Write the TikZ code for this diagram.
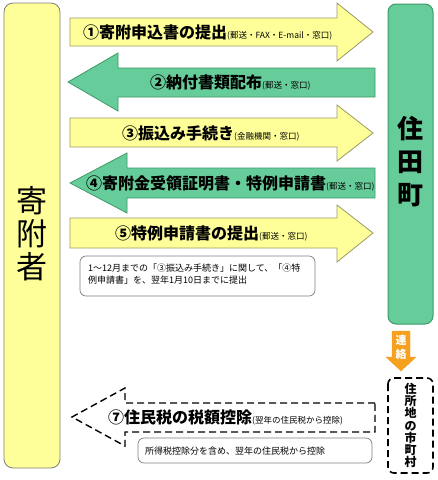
\documentclass[tikz,border=0pt]{standalone}
\usepackage{fontspec}
\setmainfont{Noto Sans CJK JP}
\definecolor{yelfill}{HTML}{FFFF99}
\definecolor{yeldraw}{HTML}{9A9A6A}
\definecolor{grnfill}{HTML}{66CC99}
\definecolor{grndraw}{HTML}{3F9A6A}
\definecolor{orng}{HTML}{F5A01E}
\definecolor{boxgray}{HTML}{7F7F7F}
\tikzset{
  yel/.style={fill=yelfill, draw=yeldraw, line width=0.8pt},
  grn/.style={fill=grnfill, draw=grndraw, line width=0.8pt},
  lbl/.style={anchor=west, inner sep=0pt, font=\bfseries\fontsize{16}{18}\selectfont},
  note/.style={draw=boxgray, fill=white, rounded corners=6pt, line width=0.7pt},
  notetext/.style={anchor=north west, inner sep=0pt, align=left, font=\fontsize{9}{11.5}\selectfont},
  dsh/.style={draw=black, line width=1.6pt, dash pattern=on 7pt off 4pt},
}
\newcommand{\sm}[1]{{\mdseries\fontsize{8.5}{10}\selectfont #1}}
\begin{document}
\begin{tikzpicture}[x=1pt,y=-1pt]
\useasboundingbox (0,0) rectangle (438,480);
% side boxes
\draw[yel, draw=boxgray, rounded corners=9pt] (4,3) rectangle (60,468);
\node[inner sep=0pt, align=center, font=\fontsize{31}{33}\selectfont] (donor) at (32,234) {寄\\附\\者};
\draw[grn, rounded corners=8pt, line width=1pt] (388,4) rectangle (433,324);
\node[inner sep=0pt, align=center, font=\bfseries\fontsize{26}{33}\selectfont] (town) at (410.5,162) {住\\田\\町};
% arrow 1
\draw[yel] (70,18) -- (337,18) -- (337,3) -- (373,32) -- (337,61) -- (337,46) -- (70,46) -- cycle;
\node[lbl] (a1) at (83,32) {①寄附申込書の提出\sm{(郵送・FAX・E-mail・窓口)}};
% arrow 2
\draw[grn] (375,68) -- (118,68) -- (118,53) -- (68,82) -- (118,111) -- (118,97) -- (375,97) -- cycle;
\node[lbl] (a2) at (150,82) {②納付書類配布\sm{(郵送・窓口)}};
% arrow 3
\draw[yel] (70,118) -- (337,118) -- (337,105) -- (373,133) -- (337,161) -- (337,147) -- (70,147) -- cycle;
\node[lbl] (a3) at (122,133) {③振込み手続き\sm{(金融機関・窓口)}};
% arrow 4
\draw[grn] (375,168) -- (127,168) -- (127,153) -- (70,183) -- (127,213) -- (127,198) -- (375,198) -- cycle;
\node[lbl] (a4) at (86,183) {④寄附金受領証明書・特例申請書\sm{(郵送・窓口)}};
% arrow 5
\draw[yel] (70,218) -- (337,218) -- (337,205) -- (373,233) -- (337,262) -- (337,248) -- (70,248) -- cycle;
\node[lbl] (a5) at (115,233) {⑤特例申請書の提出\sm{(郵送・窓口)}};
% note 1
\draw[note] (80,256) rectangle (315,296);
\node[notetext] (n1) at (88,264) {1～12月までの「③振込み手続き」に関して、「④特\\例申請書」を、翌年1月10日までに提出};
% orange arrow
\draw[fill=orng, draw=orng] (392,331) -- (410,331) -- (410,357) -- (416,357) -- (401,371) -- (386,357) -- (392,357) -- cycle;
\node[inner sep=0pt, align=center, text=white, font=\bfseries\fontsize{11}{14}\selectfont] (ren) at (401,347) {連\\絡};
% dashed municipality box
\draw[dsh, rounded corners=6pt] (388,378) rectangle (433,473);
\node[inner sep=0pt, align=center, font=\bfseries\fontsize{12}{12.3}\selectfont] (muni) at (410.5,425.5) {住\\所\\地\\の\\市\\町\\村};
% arrow 7 dashed
\draw[dsh, line width=1.4pt] (375,403) -- (125,403) -- (125,388) -- (72,417) -- (125,446) -- (125,432) -- (375,432) -- cycle;
\node[lbl] (a7) at (108,417) {⑦住民税の税額控除\sm{(翌年の住民税から控除)}};
% note 2
\draw[note] (138,438) rectangle (372,463);
\node[notetext, anchor=west] (n2) at (145,451) {所得税控除分を含め、翌年の住民税から控除};
\end{tikzpicture}
\end{document}
